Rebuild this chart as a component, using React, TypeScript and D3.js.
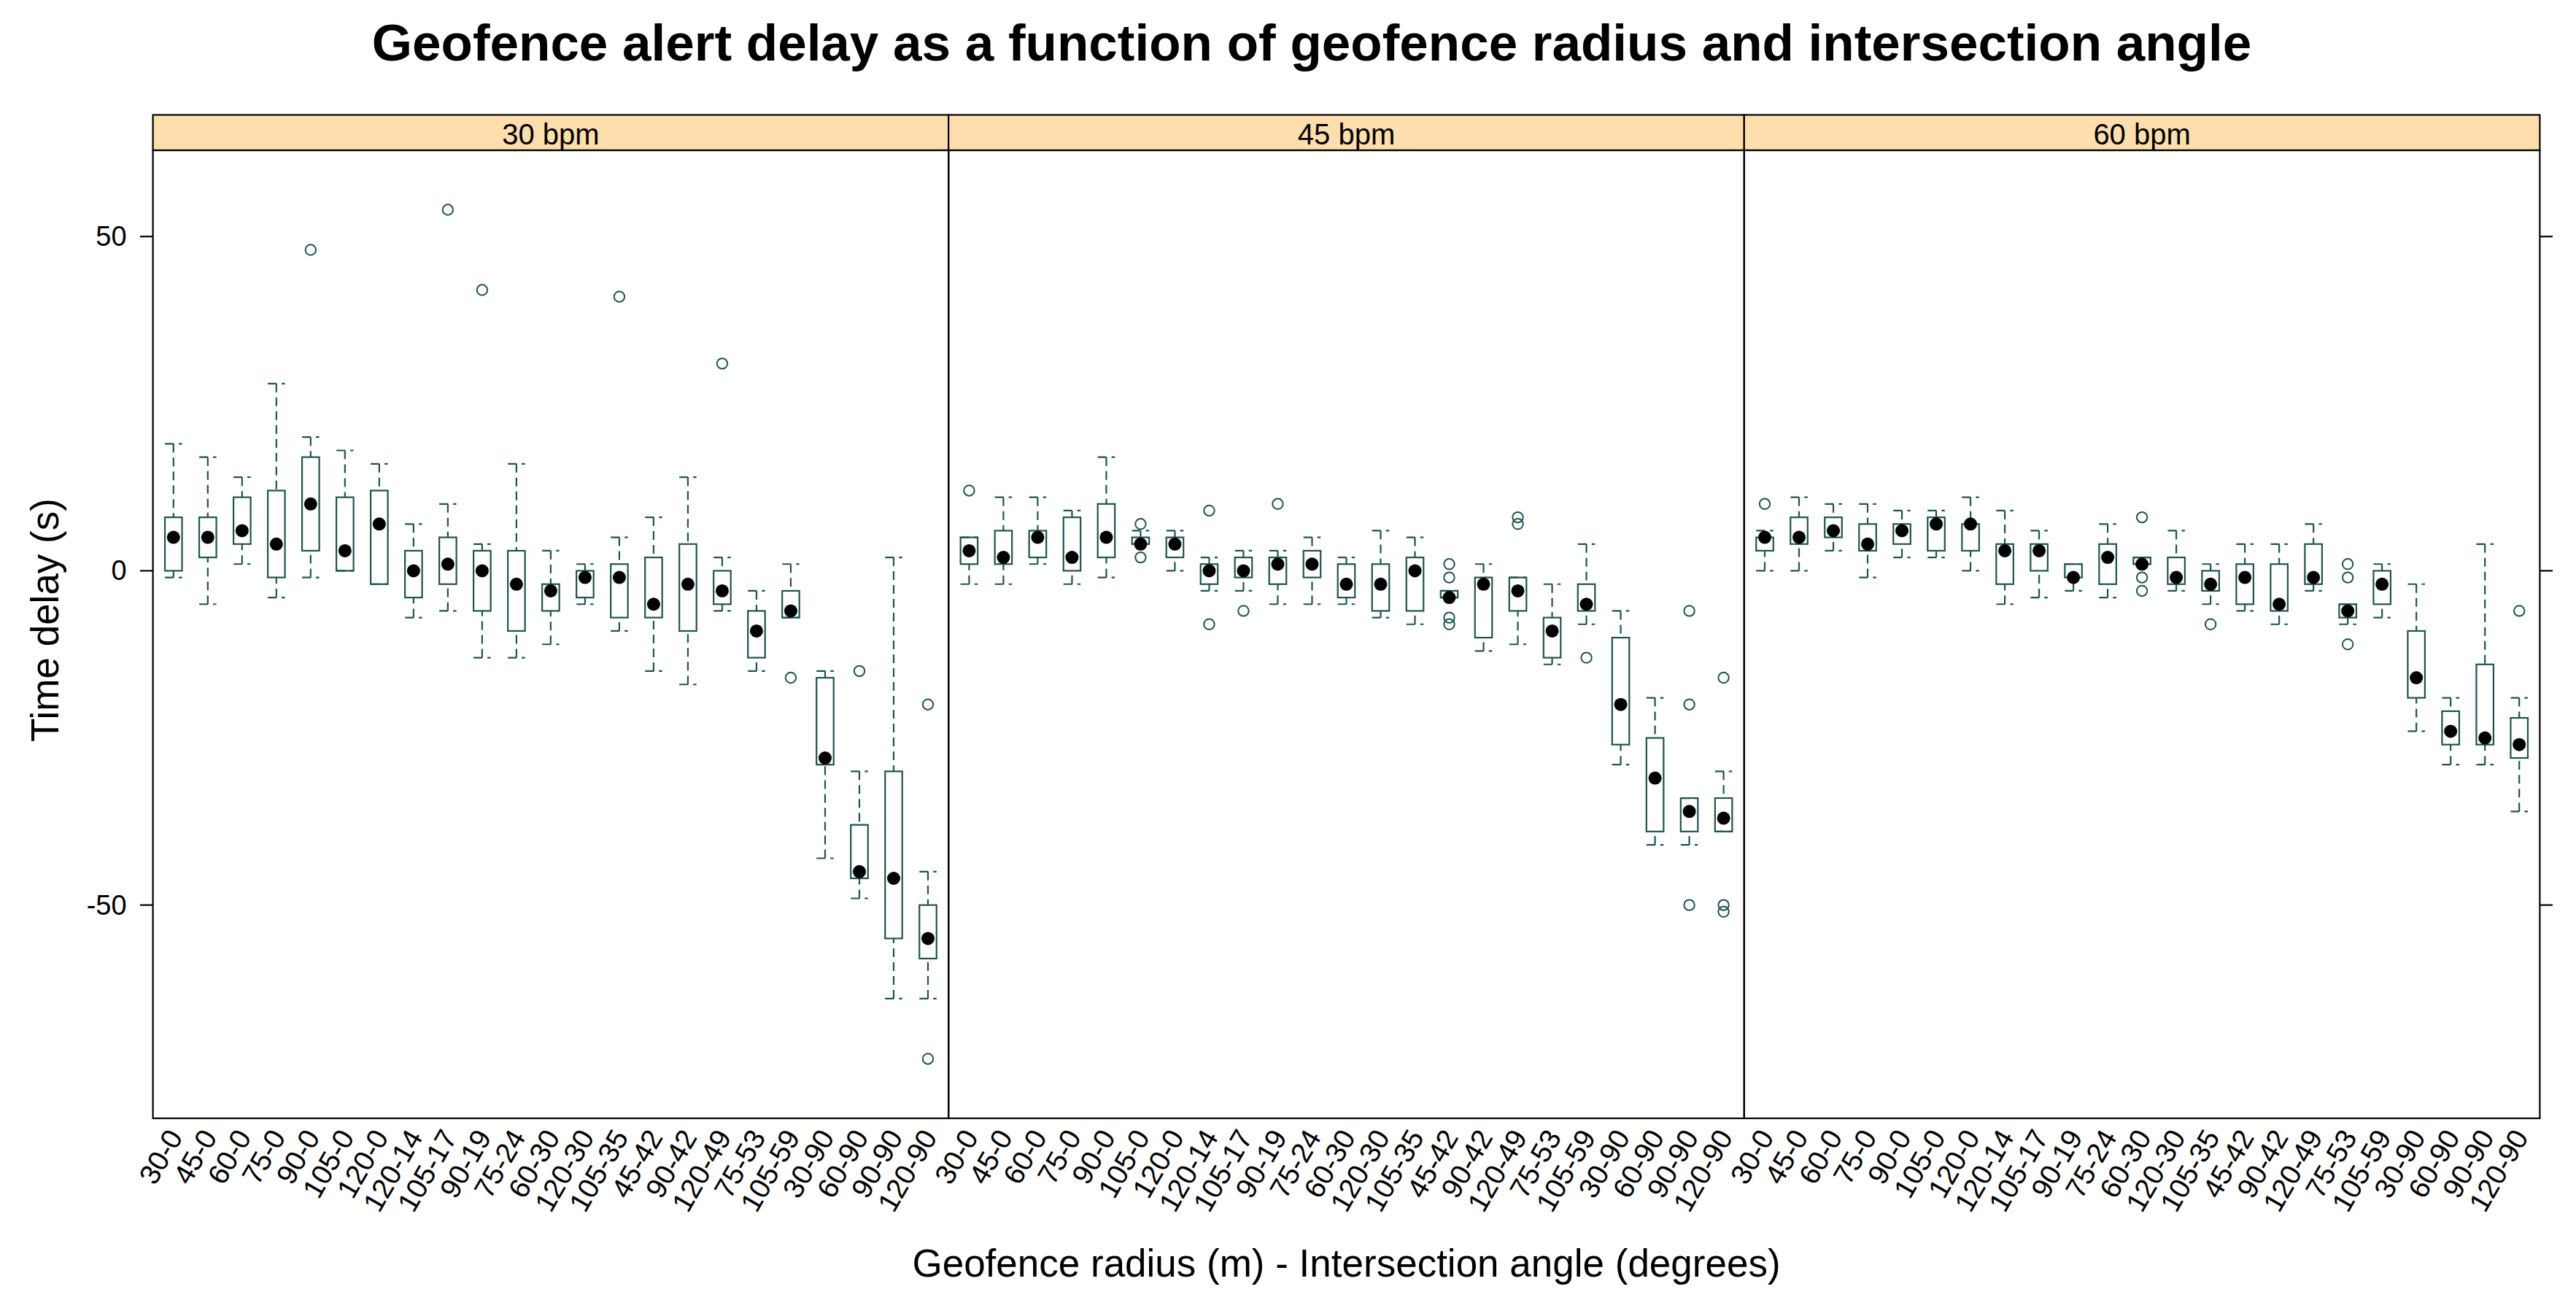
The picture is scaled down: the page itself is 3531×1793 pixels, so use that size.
import React from "react";
import * as d3 from "d3";

const categories = [
  "30-0", "45-0", "60-0", "75-0", "90-0", "105-0", "120-0", "120-14", "105-17", "90-19",
  "75-24", "60-30", "120-30", "105-35", "45-42", "90-42", "120-49", "75-53", "105-59",
  "30-90", "60-90", "90-90", "120-90",
];

const panelNames = ["30 bpm", "45 bpm", "60 bpm"];

// [lower whisker, Q1, median, Q3, upper whisker]
const stats30 = [
  [-1, 0, 5, 8, 19], [-5, 2, 5, 8, 17], [1, 4, 6, 11, 14], [-4, -1, 4, 12, 28],
  [-1, 3, 10, 17, 20], [0, 0, 3, 11, 18], [-2, -2, 7, 12, 16], [-7, -4, 0, 3, 7],
  [-6, -2, 1, 5, 10], [-13, -6, 0, 3, 4], [-13, -9, -2, 3, 16], [-11, -6, -3, -2, 3],
  [-5, -4, -1, 0, 1], [-9, -7, -1, 1, 5], [-15, -7, -5, 2, 8], [-17, -9, -2, 4, 14],
  [-6, -5, -3, 0, 2], [-15, -13, -9, -6, -3], [-7, -7, -6, -3, 1], [-43, -29, -28, -16, -15],
  [-49, -46, -45, -38, -30], [-64, -55, -46, -30, 2], [-64, -58, -55, -50, -45],
];
const outliers30 = [
  [], [], [], [], [48], [], [], [], [54], [42], [], [], [], [41], [], [], [31], [], [-16],
  [], [-15], [], [-20, -73],
];

const stats45 = [
  [-2, 1, 3, 5, 5], [-2, 1, 2, 6, 11], [1, 2, 5, 6, 11], [-2, 0, 2, 8, 9],
  [-1, 2, 5, 10, 17], [4, 4, 4, 5, 6], [0, 2, 4, 5, 6], [-3, -2, 0, 1, 2],
  [-3, -1, 0, 2, 3], [-5, -2, 1, 2, 3], [-5, -1, 1, 3, 5], [-5, -4, -2, 1, 2],
  [-7, -6, -2, 1, 6], [-8, -6, 0, 2, 5], [-4, -4, -4, -3, -3], [-12, -10, -2, -1, 1],
  [-11, -6, -3, -1, -1], [-14, -13, -9, -7, -2], [-8, -6, -5, -2, 4], [-29, -26, -20, -10, -6],
  [-41, -39, -31, -25, -19], [-41, -39, -36, -34, -34], [-39, -39, -37, -34, -30],
];
const outliers45 = [
  [12], [], [], [], [], [7, 2], [], [9, -8], [-6], [10], [], [], [], [], [1, -1, -7, -8],
  [], [8, 7], [], [-13], [], [], [-6, -20, -50], [-16, -50, -51],
];

const stats60 = [
  [0, 3, 5, 5, 6], [0, 4, 5, 8, 11], [3, 5, 6, 8, 10], [-1, 3, 4, 7, 10],
  [2, 4, 6, 7, 9], [2, 3, 7, 8, 9], [0, 3, 7, 7, 11], [-5, -2, 3, 4, 9],
  [-4, 0, 3, 4, 6], [-3, -1, -1, 1, 1], [-4, -2, 2, 4, 7], [1, 1, 1, 2, 2],
  [-3, -2, -1, 2, 6], [-5, -3, -2, 0, 1], [-6, -5, -1, 1, 4], [-8, -6, -5, 1, 4],
  [-3, -2, -1, 4, 7], [-8, -7, -6, -5, -5], [-7, -5, -2, 0, 1], [-24, -19, -16, -9, -2],
  [-29, -26, -24, -21, -19], [-29, -26, -25, -14, 4], [-36, -28, -26, -22, -19],
];
const outliers60 = [
  [10], [], [], [], [], [], [], [], [], [], [], [8, -1, -3], [], [-8], [], [], [],
  [1, -1, -11], [], [], [], [], [-6],
];

const yTicks = [50, 0, -50];

const panelStats = [stats30, stats45, stats60];
const panelOutliers = [outliers30, outliers45, outliers60];

const W = 3531;
const H = 1793;
const plotLeft = 209.6;
const panelW = 1090.6;
const stripTop = 157.5;
const panelTop = 206;
const panelBottom = 1533;
const boxColor = "#1d5450";
const font = "'Liberation Sans', Arial, Helvetica, sans-serif";
const dash = "12 7";

export default function App() {
  const y = d3.scaleLinear().domain([-81.9, 62.9]).range([panelBottom, panelTop]);
  const x = d3.scaleLinear().domain([0.4, categories.length + 0.6]).range([0, panelW]);
  const halfBox = x(1.25) - x(1);
  const lw = 2.2;

  return (
    <svg
      width={W}
      height={H}
      viewBox={`0 0 ${W} ${H}`}
      style={{ position: "absolute", left: 0, top: 0, background: "#fff" }}
      fontFamily={font}
    >
      <rect x={0} y={0} width={W} height={H} fill="#fff" />
      <text x={1798} y={83} textAnchor="middle" fontSize={71} fontWeight="bold" fill="#000">
        Geofence alert delay as a function of geofence radius and intersection angle
      </text>

      {panelNames.map((name, p) => {
        const left = plotLeft + p * panelW;
        const stats = panelStats[p];
        const outs = panelOutliers[p];
        return (
          <g key={name}>
            <rect x={left} y={stripTop} width={panelW} height={panelTop - stripTop} fill="#FFDEAD" stroke="#000" strokeWidth={lw} />
            <text x={left + panelW / 2} y={198} textAnchor="middle" fontSize={40} fill="#000">
              {name}
            </text>
            <g transform={`translate(${left},0)`}>
              {stats.map((s, i) => {
                const cx = x(i + 1);
                const [lo, q1, med, q3, hi] = s;
                return (
                  <g key={i}>
                    <line x1={cx} x2={cx} y1={y(lo)} y2={y(q1)} stroke={boxColor} strokeWidth={lw} strokeDasharray={dash} />
                    <line x1={cx} x2={cx} y1={y(hi)} y2={y(q3)} stroke={boxColor} strokeWidth={lw} strokeDasharray={dash} />
                    <line x1={cx - halfBox} x2={cx + halfBox} y1={y(lo)} y2={y(lo)} stroke={boxColor} strokeWidth={lw} strokeDasharray={dash} />
                    <line x1={cx - halfBox} x2={cx + halfBox} y1={y(hi)} y2={y(hi)} stroke={boxColor} strokeWidth={lw} strokeDasharray={dash} />
                    <rect x={cx - halfBox} y={y(q3)} width={2 * halfBox} height={Math.max(0, y(q1) - y(q3))} fill="none" stroke={boxColor} strokeWidth={lw} />
                    <circle cx={cx} cy={y(med)} r={9} fill="#000" />
                    {outs[i].map((o, k) => (
                      <circle key={k} cx={cx} cy={y(o)} r={7.2} fill="none" stroke={boxColor} strokeWidth={2} />
                    ))}
                  </g>
                );
              })}
              {categories.map((c, i) => (
                <text
                  key={c}
                  transform={`translate(${x(i + 1) + 2},${panelBottom + 19}) rotate(-60)`}
                  textAnchor="end"
                  dominantBaseline="central"
                  fontSize={39}
                  fill="#000"
                >
                  {c}
                </text>
              ))}
            </g>
            <rect x={left} y={panelTop} width={panelW} height={panelBottom - panelTop} fill="none" stroke="#000" strokeWidth={lw} />
          </g>
        );
      })}

      {yTicks.map((t) => (
        <g key={t}>
          <line x1={plotLeft - 17.6} x2={plotLeft} y1={y(t)} y2={y(t)} stroke="#000" strokeWidth={lw} />
          <line x1={plotLeft + 3 * panelW} x2={plotLeft + 3 * panelW + 17.6} y1={y(t)} y2={y(t)} stroke="#000" strokeWidth={lw} />
          <text x={plotLeft - 36} y={y(t)} textAnchor="end" dominantBaseline="central" fontSize={38} fill="#000">
            {t}
          </text>
        </g>
      ))}

      <text x={plotLeft + 1.5 * panelW} y={1750} textAnchor="middle" fontSize={53} fill="#000">
        Geofence radius (m) - Intersection angle (degrees)
      </text>
      <text transform={`translate(80,850) rotate(-90)`} textAnchor="middle" fontSize={53} fill="#000">
        Time delay (s)
      </text>
    </svg>
  );
}
